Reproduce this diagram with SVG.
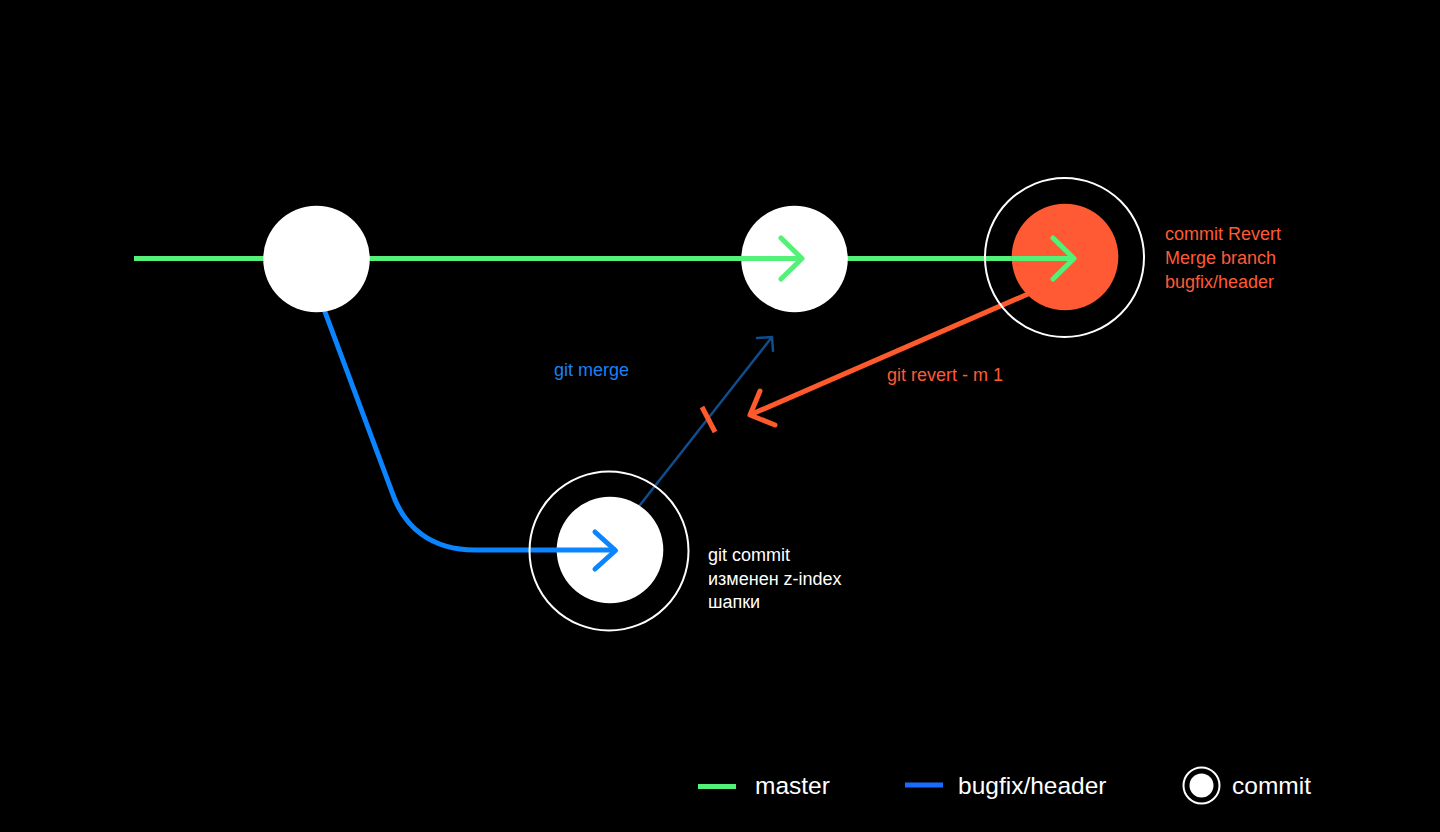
<svg xmlns="http://www.w3.org/2000/svg" width="1440" height="832" viewBox="0 0 1440 832">
  <style>
    .t { font-family: "Liberation Sans", Arial, sans-serif; font-size: 18px; }
    .lg { font-family: "Liberation Sans", Arial, sans-serif; font-size: 24.5px; fill: #ffffff; }
    .white { fill: #ffffff; }
    .ring { fill: none; stroke: #ffffff; stroke-width: 2; }
    .green { fill: none; stroke: #55F078; stroke-width: 5; stroke-linecap: round; stroke-linejoin: round; }
    .blue { fill: none; stroke: #0A84FF; stroke-width: 5; stroke-linecap: round; stroke-linejoin: round; }
    .orange { fill: none; stroke: #FF5A2C; stroke-width: 5; stroke-linecap: round; stroke-linejoin: round; }
    .dblue { fill: none; stroke: #0F4D8C; stroke-width: 2.5; stroke-linecap: round; stroke-linejoin: round; }
  </style>
  <rect width="1440" height="832" fill="#000000"/>

  <g id="connectors">
    <!-- master line -->
    <path class="green" style="stroke-linecap:butt" d="M134,258.5 L1075,258.5"/>
    <!-- bugfix branch -->
    <path class="blue" d="M325,312 L392,492 C404,528 432,550 475,550 L616,550"/>
    <!-- merge arrow -->
    <path class="dblue" d="M640,505 L772,337 M757,338 L772,337 L773,351"/>
    <!-- revert arrow -->
    <path class="orange" style="stroke-linecap:butt" d="M1028,294 L752,414"/>
    <path class="orange" d="M760,391 L750,415 L775,425"/>
    <!-- tick on merge line -->
    <path class="orange" style="stroke-linecap:butt" d="M702,407 L715,432"/>
  </g>

  <g id="node-start">
    <circle class="white" cx="316.5" cy="259" r="53.3"/>
  </g>

  <g id="node-merge">
    <circle class="white" cx="794.5" cy="259" r="53.3"/>
    <path class="green" style="stroke-linecap:butt" d="M741,258.5 L802,258.5"/>
    <path class="green" d="M781,238 L802,258.5 L781,279"/>
  </g>

  <g id="node-revert">
    <circle class="ring" cx="1064.5" cy="257.5" r="79.5"/>
    <circle cx="1065" cy="257" r="53.3" fill="#FF5A33"/>
    <path class="green" style="stroke-linecap:butt" d="M1012,258.5 L1075,258.5"/>
    <path class="green" d="M1053,238 L1074,258.5 L1053,279"/>
    <text class="t" fill="#FF5A33" x="1165" y="240">commit Revert</text>
    <text class="t" fill="#FF5A33" x="1165" y="264">Merge branch</text>
    <text class="t" fill="#FF5A33" x="1165" y="288">bugfix/header</text>
  </g>

  <g id="node-commit">
    <circle class="ring" cx="609" cy="551" r="79.5"/>
    <circle class="white" cx="610" cy="550" r="53.3"/>
    <path class="blue" style="stroke-linecap:butt" d="M556,550 L616,550"/>
    <path class="blue" d="M595,532 L615.5,550.5 L595,569"/>
    <text class="t" fill="#ffffff" x="708" y="561">git commit</text>
    <text class="t" fill="#ffffff" x="708" y="584.5">изменен z-index</text>
    <text class="t" fill="#ffffff" x="708" y="608">шапки</text>
  </g>

  <g id="labels">
    <text class="t" fill="#1A80F5" x="554" y="375.5">git merge</text>
    <text class="t" fill="#FF5A33" x="887" y="380.5">git revert - m 1</text>
  </g>

  <g id="legend">
    <line x1="698" y1="786.5" x2="736" y2="786.5" stroke="#55F078" stroke-width="5"/>
    <text class="lg" x="755" y="793.5">master</text>
    <line x1="905" y1="785" x2="943" y2="785" stroke="#1A6BFF" stroke-width="5"/>
    <text class="lg" x="958" y="793.5">bugfix/header</text>
    <circle class="ring" cx="1201.5" cy="785.5" r="18"/>
    <circle class="white" cx="1201.5" cy="785.5" r="12"/>
    <text class="lg" x="1232" y="793.5">commit</text>
  </g>
</svg>
